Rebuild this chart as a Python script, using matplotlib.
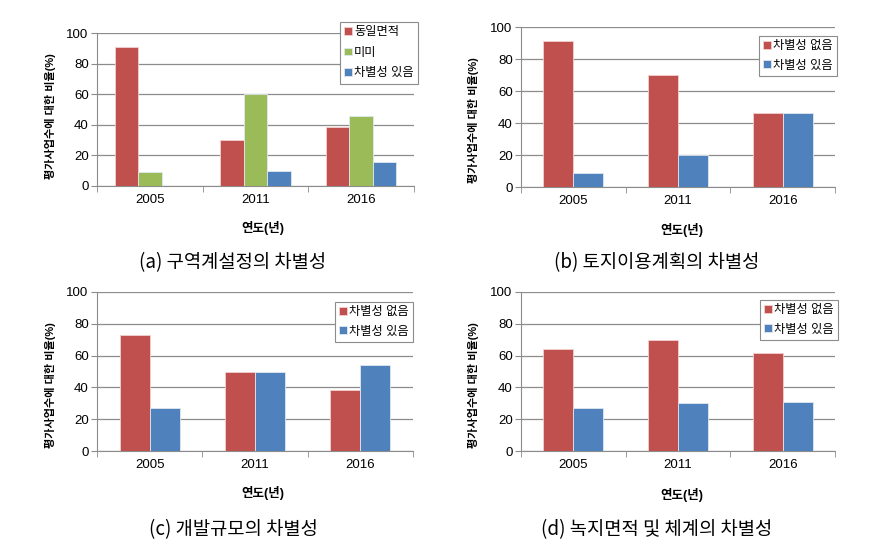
import numpy as np
import matplotlib
matplotlib.use('Agg')
import matplotlib.pyplot as plt

plt.rcParams['font.family'] = ['Liberation Sans', 'Noto Sans CJK KR', 'DejaVu Sans']

years = ['2005', '2011', '2016']

# (a) 구역계설정
a_labels = ['동일면적', '미미', '차별성 있음']
a_same = [91, 30, 38.5]
a_minor = [9, 60, 46]
a_diff = [0, 10, 15.5]

# (b)-(d) two series each
two_labels = ['차별성 없음', '차별성 있음']
b_none = [91, 70, 46]
b_diff = [9, 20, 46]
c_none = [73, 50, 38.5]
c_diff = [27, 50, 54]
d_none = [64, 70, 61.5]
d_diff = [27, 30, 31]

captions = ['(a) 구역계설정의 차별성', '(b) 토지이용계획의 차별성',
            '(c) 개발규모의 차별성', '(d) 녹지면적 및 체계의 차별성']

RED = '#C0504D'
GREEN = '#9BBB59'
BLUE = '#4F81BD'

W, H = 879, 549
fig = plt.figure(figsize=(W / 100, H / 100), dpi=100)


def px_axes(left, right, top, bottom):
    return fig.add_axes([left / W, 1 - bottom / H, (right - left) / W, (bottom - top) / H])


def draw(ax, series, labels, colors, leg_anchor, spacing):
    n = len(series)
    width = 1 / (n + 1.5)
    x = np.arange(len(years))
    for i, (vals, lab, col) in enumerate(zip(series, labels, colors)):
        off = (i - (n - 1) / 2) * width
        ax.bar(x + off, vals, width, color=col, label=lab,
               edgecolor='#f2d0cf' if col == RED else '#e0e8f0', linewidth=0.6, zorder=3)
    ax.set_xlim(-0.5, 2.5)
    ax.set_ylim(0, 100)
    ax.set_yticks([0, 20, 40, 60, 80, 100])
    ax.yaxis.grid(True, color='#8c8c8c', linewidth=0.9, zorder=0)
    ax.set_xticks(x)
    ax.set_xticklabels(years)
    ax.set_xticks([-0.5, 0.5, 1.5, 2.5], minor=True)
    ax.tick_params(axis='x', which='major', length=0, labelsize=9.5, pad=6)
    ax.tick_params(axis='x', which='minor', length=4, color='#8c8c8c', direction='out')
    ax.tick_params(axis='y', length=4, color='#8c8c8c', labelsize=9.5, pad=2)
    for s in ['top', 'right']:
        ax.spines[s].set_visible(False)
    for s in ['left', 'bottom']:
        ax.spines[s].set_color('#8c8c8c')
    leg = ax.legend(loc='upper right', bbox_to_anchor=(leg_anchor[0] / W, 1 - leg_anchor[1] / H),
                    bbox_transform=fig.transFigure, fontsize=8.8, frameon=True, fancybox=False,
                    framealpha=1, edgecolor='#8c8c8c', handlelength=0.6, handleheight=0.6,
                    handletextpad=0.2, labelspacing=spacing, borderpad=0.35, borderaxespad=0)
    leg.get_frame().set_linewidth(0.8)


ax_a = px_axes(97, 414, 33, 186)
draw(ax_a, [a_same, a_minor, a_diff], a_labels, [RED, GREEN, BLUE], (418, 22), 0.7)
ax_b = px_axes(521, 835, 27, 187)
draw(ax_b, [b_none, b_diff], two_labels, [RED, BLUE], (837, 36), 0.6)
ax_c = px_axes(97, 413, 292, 451)
draw(ax_c, [c_none, c_diff], two_labels, [RED, BLUE], (413, 302), 0.6)
ax_d = px_axes(521, 835, 292, 451)
draw(ax_d, [d_none, d_diff], two_labels, [RED, BLUE], (838, 300), 0.6)

ylab = '평가사업수에 대한 비율(%)'
for (x, y) in [(50, 116), (473, 120), (50, 385), (473, 385)]:
    fig.text(x / W, 1 - y / H, ylab, rotation=90, ha='center', va='center',
             fontsize=8, fontweight='bold')

for (x, y) in [(263, 228), (682, 230), (263, 493), (682, 495)]:
    fig.text(x / W, 1 - y / H, '연도(년)', ha='center', va='center', fontsize=9, fontweight='bold')

for cap, (x, y) in zip(captions, [(233, 263), (657, 263), (233, 530), (657, 530)]):
    fig.text(x / W, 1 - y / H, cap, ha='center', va='center', fontsize=13.5,
             family=['Noto Sans CJK KR', 'DejaVu Sans'])

fig.savefig('out.png', dpi=100)
